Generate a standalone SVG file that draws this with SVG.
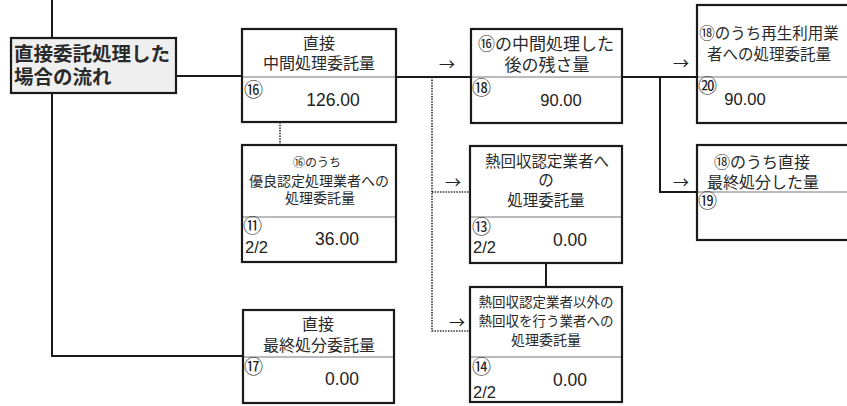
<svg xmlns="http://www.w3.org/2000/svg" width="847" height="406" viewBox="0 0 847 406">
<style>
.bx{fill:#fff;stroke:#1a1a1a;stroke-width:2.2}
.tb{fill:#efefef;stroke:#1a1a1a;stroke-width:2.2}
.dv{stroke:#777;stroke-width:1}
.ln{fill:none;stroke:#1a1a1a;stroke-width:2}
.dt{fill:none;stroke:#333;stroke-width:1.6;stroke-dasharray:1.5 1.2}
text{font-family:"Noto Sans CJK JP","Liberation Sans",sans-serif;fill:#2a2a2a}
.c{text-anchor:middle}
.n{font-family:"Liberation Sans","Noto Sans CJK JP",sans-serif;text-anchor:middle;fill:#222}
.m{font-family:"Noto Sans CJK JP","Liberation Sans",sans-serif;font-size:19px;fill:#222}
.f{font-family:"Liberation Sans",sans-serif;font-size:16.5px;fill:#222}
.ar{font-size:16px;text-anchor:middle;fill:#222}
</style>
<rect width="847" height="406" fill="#fff"/>
<g id="connectors">
<path class="ln" d="M52 0V38"/>
<path class="ln" d="M52 93V356H243"/>
<path class="ln" d="M176 76H243"/>
<path class="ln" d="M396 77H471"/>
<path class="ln" d="M622 77H697"/>
<path class="ln" d="M660 77V192H697"/>
<path class="ln" d="M546 263V287"/>
<path class="dt" d="M280 122V145"/>
<path class="dt" d="M432 77V331H470"/>
<path class="dt" d="M432 192H470"/>
<text class="ar" x="447" y="70">→</text>
<text class="ar" x="681" y="69">→</text>
<text class="ar" x="681" y="188">→</text>
<text class="ar" x="453" y="188">→</text>
<text class="ar" x="457" y="328">→</text>
</g>
<g id="title">
<rect class="tb" x="11" y="38" width="165" height="55"/>
<text x="14" y="61" font-size="19.5" font-weight="bold" fill="#111">直接委託処理した</text>
<text x="14" y="84" font-size="19.5" font-weight="bold" fill="#111">場合の流れ</text>
</g>
<g id="n16">
<rect class="bx" x="242" y="29" width="154" height="93"/>
<line class="dv" x1="243" y1="77" x2="395" y2="77"/>
<text class="c" x="319" y="49" font-size="16">直接</text>
<text class="c" x="319" y="69" font-size="16">中間処理委託量</text>
<text class="m" x="244" y="97">⑯</text>
<text class="n" x="333" y="106" font-size="17.5">126.00</text>
</g>
<g id="n11">
<rect class="bx" x="242" y="145" width="154" height="117"/>
<line class="dv" x1="243" y1="217" x2="395" y2="217"/>
<text class="c" x="317" y="167" font-size="12">⑯のうち</text>
<text class="c" x="319" y="186" font-size="14">優良認定処理業者への</text>
<text class="c" x="320" y="203" font-size="14">処理委託量</text>
<text class="m" x="243" y="233">⑪</text>
<text class="f" x="245" y="253">2/2</text>
<text class="n" x="337" y="245" font-size="17.5">36.00</text>
</g>
<g id="n17">
<rect class="bx" x="243" y="310" width="151" height="93"/>
<line class="dv" x1="244" y1="357" x2="393" y2="357"/>
<text class="c" x="318" y="330" font-size="16">直接</text>
<text class="c" x="319" y="351" font-size="16">最終処分委託量</text>
<text class="m" x="244" y="374">⑰</text>
<text class="n" x="342" y="385" font-size="17.5">0.00</text>
</g>
<g id="n18">
<rect class="bx" x="471" y="29" width="151" height="94"/>
<line class="dv" x1="472" y1="77" x2="621" y2="77"/>
<text class="c" x="546" y="50" font-size="17">⑯の中間処理した</text>
<text class="c" x="547" y="71" font-size="17">後の残さ量</text>
<text class="m" x="472" y="95">⑱</text>
<text class="n" x="561" y="106" font-size="16.5">90.00</text>
</g>
<g id="n13">
<rect class="bx" x="470" y="146" width="152" height="117"/>
<line class="dv" x1="471" y1="217" x2="621" y2="217"/>
<text class="c" x="547" y="167" font-size="15.5">熱回収認定業者へ</text>
<text class="c" x="546" y="186" font-size="15.5">の</text>
<text class="c" x="546" y="206" font-size="15.5">処理委託量</text>
<text class="m" x="472" y="234">⑬</text>
<text class="f" x="473" y="253">2/2</text>
<text class="n" x="570" y="246" font-size="17.5">0.00</text>
</g>
<g id="n14">
<rect class="bx" x="470" y="287" width="152" height="115"/>
<line class="dv" x1="471" y1="357" x2="621" y2="357"/>
<text class="c" x="546" y="307" font-size="13.5">熱回収認定業者以外の</text>
<text class="c" x="546" y="326" font-size="13.5">熱回収を行う業者への</text>
<text class="c" x="546" y="345" font-size="14">処理委託量</text>
<text class="m" x="472" y="374">⑭</text>
<text class="f" x="473" y="398">2/2</text>
<text class="n" x="570" y="386" font-size="17.5">0.00</text>
</g>
<g id="n20">
<rect class="bx" x="697" y="5" width="160" height="118"/>
<line class="dv" x1="698" y1="77" x2="847" y2="77"/>
<text class="c" x="769" y="39" font-size="15.5">⑱のうち再生利用業</text>
<text class="c" x="769" y="60" font-size="15.5">者への処理委託量</text>
<text class="m" x="698" y="93">⑳</text>
<text class="n" x="745" y="105" font-size="16.5">90.00</text>
</g>
<g id="n19">
<rect class="bx" x="697" y="145" width="160" height="95"/>
<line class="dv" x1="698" y1="192" x2="847" y2="192"/>
<text class="c" x="762" y="168" font-size="16">⑱のうち直接</text>
<text class="c" x="763" y="188" font-size="16">最終処分した量</text>
<text class="m" x="698" y="208">⑲</text>
</g>
</svg>
